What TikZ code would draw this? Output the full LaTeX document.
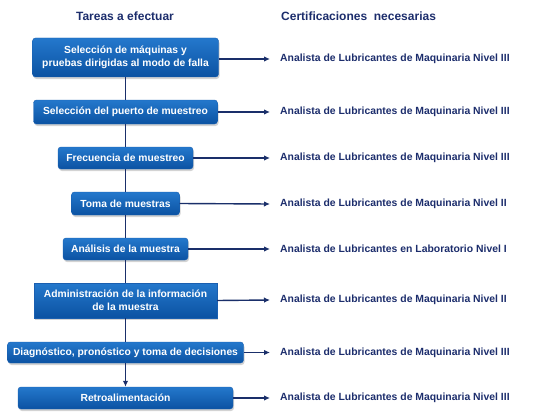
\documentclass[tikz,border=0pt]{standalone}
\usepackage{fontspec}
\setmainfont{Liberation Sans}
\usetikzlibrary{arrows.meta,shadows}
\definecolor{navy}{HTML}{1C2D6C}
\definecolor{linec}{HTML}{1A2F6A}
\definecolor{boxtop}{HTML}{2478CC}
\definecolor{boxbot}{HTML}{0B52A2}
\definecolor{boxdraw}{HTML}{1A5FB0}
\tikzset{
  taskbox/.style={rectangle, rounded corners=3pt, draw=boxdraw, line width=0.4pt,
    top color=boxtop, bottom color=boxbot, text=white,
    font=\fontsize{10.3}{12.5}\selectfont\bfseries, align=center, inner sep=0pt,
    drop shadow={opacity=0.35, shadow xshift=1pt, shadow yshift=-2pt}},
  certlabel/.style={anchor=west, text=navy, font=\fontsize{10.4}{12}\selectfont\bfseries, inner sep=0pt},
  title/.style={text=navy, font=\fontsize{12}{14}\selectfont\bfseries, inner sep=0pt},
  conn/.style={draw=linec, line width=1.4pt},
  harrow/.style={draw=linec, line width=1.4pt, -{Latex[length=6pt,width=5.5pt]}}
}
\begin{document}
\begin{tikzpicture}[x=1pt,y=-1pt]
\useasboundingbox (0,0) rectangle (538,420);
\node[title] (t1) at (125,16) {Tareas a efectuar};
\node[title, anchor=west] (t2) at (281,16) {Certificaciones\ \ necesarias};

\node[taskbox, minimum width=186pt, minimum height=39pt] (b1) at (125.5,57.5) {Selección de máquinas y\\pruebas dirigidas al modo de falla};
\node[taskbox, minimum width=184pt, minimum height=24pt] (b2) at (125.5,112) {Selección del puerto de muestreo};
\node[taskbox, minimum width=135pt, minimum height=22pt] (b3) at (125.5,158) {Frecuencia de muestreo};
\node[taskbox, minimum width=108pt, minimum height=23pt] (b4) at (125.5,203.5) {Toma de muestras};
\node[taskbox, minimum width=125pt, minimum height=22pt] (b5) at (125.5,249) {Análisis de la muestra};
\node[taskbox, rounded corners=0pt, minimum width=183pt, minimum height=35pt] (b6) at (125.5,300.5) {Administración de la información\\de la muestra};
\node[taskbox, minimum width=236pt, minimum height=21pt] (b7) at (125.5,352.5) {Diagnóstico, pronóstico y toma de decisiones};
\node[taskbox, minimum width=215pt, minimum height=22pt] (b8) at (125.5,398) {Retroalimentación};

\draw[conn] (b1.south) -- (b2.north);
\draw[conn] (b2.south) -- (b3.north);
\draw[conn] (b3.south) -- (b4.north);
\draw[conn] (b4.south) -- (b5.north);
\draw[conn] (b5.south) -- (b6.north);
\draw[conn] (b6.south) -- (b7.north);
\draw[harrow] (b7.south) -- (b8.north);

\node[certlabel] (c1) at (280,59) {Analista de Lubricantes de Maquinaria Nivel III};
\node[certlabel] (c2) at (280,112) {Analista de Lubricantes de Maquinaria Nivel III};
\node[certlabel] (c3) at (280,158) {Analista de Lubricantes de Maquinaria Nivel III};
\node[certlabel] (c4) at (280,204) {Analista de Lubricantes de Maquinaria Nivel II};
\node[certlabel] (c5) at (280,249) {Analista de Lubricantes en Laboratorio Nivel I};
\node[certlabel] (c6) at (280,300) {Analista de Lubricantes de Maquinaria Nivel II};
\node[certlabel] (c7) at (280,352.5) {Analista de Lubricantes de Maquinaria Nivel III};
\node[certlabel] (c8) at (280,398) {Analista de Lubricantes de Maquinaria Nivel III};

\coordinate (e1) at (270,59);
\draw[harrow] (b1.east |- e1) -- (e1);
\draw[harrow] (b2.east) -- (c2.west -| e1);
\draw[harrow] (b3.east) -- (c3.west -| e1);
\draw[harrow] (b4.east) -- (c4.west -| e1);
\draw[harrow] (b5.east) -- (c5.west -| e1);
\draw[harrow] (b6.east) -- (c6.west -| e1);
\draw[harrow] (b7.east) -- (c7.west -| e1);
\draw[harrow] (b8.east) -- (c8.west -| e1);
\end{tikzpicture}
\end{document}
